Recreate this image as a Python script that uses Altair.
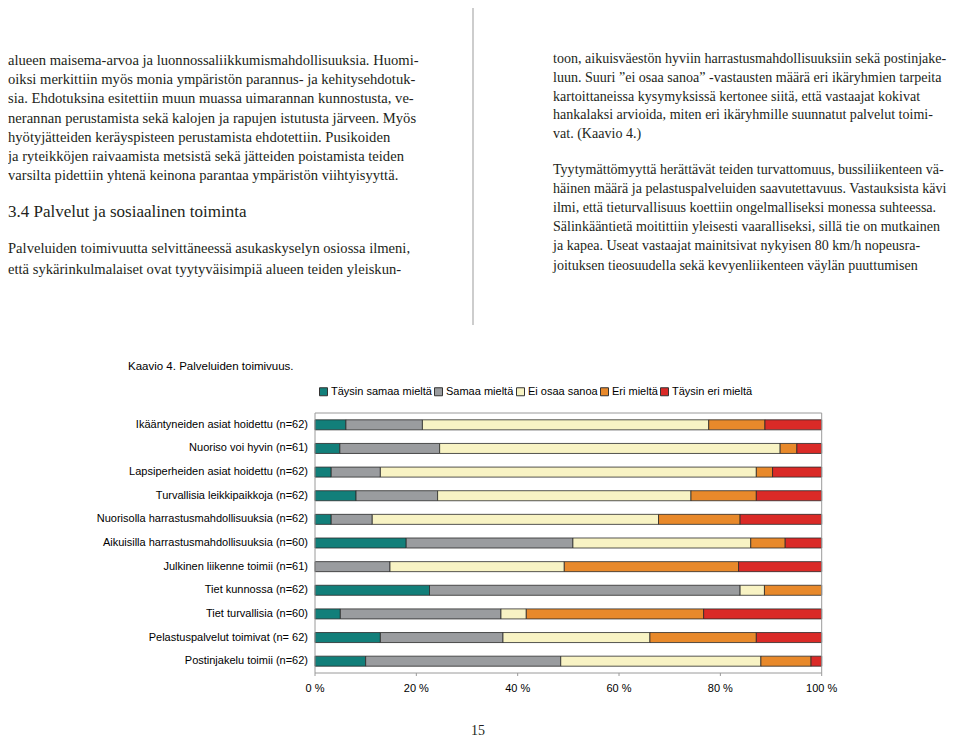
import altair as alt
import pandas as pd

# ---------------- data ----------------
categories = [
    "Ikääntyneiden asiat hoidettu (n=62)",
    "Nuoriso voi hyvin (n=61)",
    "Lapsiperheiden asiat hoidettu (n=62)",
    "Turvallisia leikkipaikkoja (n=62)",
    "Nuorisolla harrastusmahdollisuuksia (n=62)",
    "Aikuisilla harrastusmahdollisuuksia (n=60)",
    "Julkinen liikenne toimii (n=61)",
    "Tiet kunnossa (n=62)",
    "Tiet turvallisia (n=60)",
    "Pelastuspalvelut toimivat (n= 62)",
    "Postinjakelu toimii (n=62)",
]
levels = ["Täysin samaa mieltä", "Samaa mieltä", "Ei osaa sanoa", "Eri mieltä", "Täysin eri mieltä"]
colors = ["#127f7a", "#9a9c9f", "#f8f3c4", "#e8892b", "#da2a27"]

taysin_samaa = [6.1, 4.9, 3.2, 8.1, 3.2, 18.0, 0.0, 22.6, 5.0, 12.9, 10.0]
samaa = [15.1, 19.7, 9.7, 16.1, 8.1, 32.9, 14.8, 61.3, 31.7, 24.2, 38.5]
ei_osaa = [56.5, 67.2, 74.2, 50.0, 56.5, 35.1, 34.4, 4.8, 5.0, 29.0, 39.5]
eri = [11.1, 3.3, 3.2, 12.9, 16.1, 6.8, 34.4, 11.3, 35.0, 21.0, 9.9]
taysin_eri = [11.2, 4.9, 9.7, 12.9, 16.1, 7.2, 16.4, 0.0, 23.3, 12.9, 2.1]

tick_values = [0, 20, 40, 60, 80, 100]
tick_labels = ["0 %", "20 %", "40 %", "60 %", "80 %", "100 %"]

chart_title = "Kaavio 4. Palveluiden toimivuus."
page_number = "15"

left_para1 = [
    "alueen maisema-arvoa ja luonnossaliikkumismahdollisuuksia. Huomi-",
    "oiksi merkittiin myös monia ympäristön parannus- ja kehitysehdotuk-",
    "sia. Ehdotuksina esitettiin muun muassa uimarannan kunnostusta, ve-",
    "nerannan perustamista sekä kalojen ja rapujen istutusta järveen. Myös",
    "hyötyjätteiden keräyspisteen perustamista ehdotettiin. Pusikoiden",
    "ja ryteikköjen raivaamista metsistä sekä jätteiden poistamista teiden",
    "varsilta pidettiin yhtenä keinona parantaa ympäristön viihtyisyyttä.",
]
heading = "3.4 Palvelut ja sosiaalinen toiminta"
left_para2 = [
    "Palveluiden toimivuutta selvittäneessä asukaskyselyn osiossa ilmeni,",
    "että sykärinkulmalaiset ovat tyytyväisimpiä alueen teiden yleiskun-",
]
right_para1 = [
    "toon, aikuisväestön hyviin harrastusmahdollisuuksiin sekä postinjake-",
    "luun.  Suuri ”ei osaa sanoa” -vastausten määrä eri ikäryhmien tarpeita",
    "kartoittaneissa kysymyksissä kertonee siitä, että vastaajat kokivat",
    "hankalaksi arvioida, miten eri ikäryhmille suunnatut palvelut toimi-",
    "vat. (Kaavio 4.)",
]
right_para2 = [
    "Tyytymättömyyttä herättävät teiden turvattomuus, bussiliikenteen vä-",
    "häinen määrä ja pelastuspalveluiden saavutettavuus. Vastauksista kävi",
    "ilmi, että tieturvallisuus koettiin ongelmalliseksi monessa suhteessa.",
    "Sälinkääntietä moitittiin yleisesti vaaralliseksi, sillä tie on mutkainen",
    "ja kapea. Useat vastaajat mainitsivat nykyisen 80 km/h nopeusra-",
    "joituksen tieosuudella sekä kevyenliikenteen väylän puuttumisen",
]

# ---------------- tables ----------------
series = [taysin_samaa, samaa, ei_osaa, eri, taysin_eri]
rows = []
for li, (lev, vals) in enumerate(zip(levels, series)):
    for cat, v in zip(categories, vals):
        if v > 0:
            rows.append({"cat": cat, "level": lev, "value": v, "idx": li})
df = pd.DataFrame(rows)
cat_df = pd.DataFrame({"cat": categories})
tick_df = pd.DataFrame({"tick": tick_values, "label": tick_labels})
one = pd.DataFrame({"k": [0]})

SERIF = "Liberation Serif"
SANS = "Liberation Sans"
INK = "#231f20"

X0, X1 = 307, 813.7
Y0, Y1 = 405, 665

x_scale = alt.Scale(domain=[0, 100], range=[X0, X1], nice=False, zero=True)
y_scale = alt.Scale(range=[Y0, Y1], paddingInner=0.576, paddingOuter=0.288)

bars = alt.Chart(df).mark_bar(stroke="#2a2a2a", strokeWidth=0.8).encode(
    x=alt.X("value:Q", stack="zero", scale=x_scale, axis=None),
    y=alt.Y("cat:N", sort=categories, scale=y_scale, axis=None),
    fill=alt.Fill(
        "level:N",
        scale=alt.Scale(domain=levels, range=colors),
        sort=levels,
        legend=alt.Legend(
            title=None, orient="none", legendX=310, legendY=378,
            direction="horizontal", columns=5, symbolType="square",
            symbolSize=64, symbolStrokeColor="#333333", symbolStrokeWidth=1,
            labelFont=SANS, labelFontSize=11, labelColor="black",
            labelOffset=2, columnPadding=0, padding=0,
        ),
    ),
    order=alt.Order("idx:Q", sort="ascending"),
)

frame = alt.Chart(one).mark_rect(
    fillOpacity=0, stroke="#9a9a9a", strokeWidth=1
).encode(
    x=alt.value(X0), x2=alt.value(X1),
    y=alt.value(Y0), y2=alt.value(Y1),
)

ticks = alt.Chart(tick_df).mark_rule(color="#9a9a9a", strokeWidth=1).encode(
    x=alt.X("tick:Q", scale=x_scale, axis=None),
    y=alt.value(Y1), y2=alt.value(Y1 + 3),
)

tick_text = alt.Chart(tick_df).mark_text(
    font=SANS, fontSize=11, color="black", baseline="middle", align="center"
).encode(
    x=alt.X("tick:Q", scale=x_scale, axis=None),
    y=alt.value(681),
    text="label:N",
)

cat_text = alt.Chart(cat_df).mark_text(
    font=SANS, fontSize=11, color="black", baseline="middle", align="right"
).encode(
    y=alt.Y("cat:N", sort=categories, scale=y_scale, axis=None),
    x=alt.value(300),
    text="cat:N",
)


def text_block(lines, x, y, size, font, lh, align="left", color=INK):
    return alt.Chart(one).mark_text(
        fontSize=size, font=font, lineHeight=lh,
        align=align, baseline="alphabetic", color=color,
    ).encode(x=alt.value(x), y=alt.value(y), text=alt.value(lines))


separator = alt.Chart(one).mark_rule(
    color="#bdbdbd", strokeWidth=1.5
).encode(x=alt.value(465), y=alt.value(0), y2=alt.value(317))

layers = [
    separator,
    text_block(left_para1, 0, 57, 14.6, SERIF, 19.2),
    text_block([heading], 0, 209, 17, SERIF, 20),
    text_block(left_para2, 0, 245, 14.6, SERIF, 20.5),
    text_block(right_para1, 545, 55, 14.05, SERIF, 18.8),
    text_block(right_para2, 545, 166, 14.05, SERIF, 19.1),
    text_block([chart_title], 120, 362, 11.5, SANS, 14, color="black"),
    text_block([page_number], 470, 727, 14, SERIF, 16, align="center"),
    bars,
    frame,
    ticks,
    tick_text,
    cat_text,
]

chart = alt.layer(*layers).properties(
    width=943, height=731,
    autosize=alt.AutoSizeParams(type="none"),
    padding=0,
    background="white",
).configure_view(strokeWidth=0)

chart.save("out.html", embed_options={"renderer": "svg", "actions": False})
